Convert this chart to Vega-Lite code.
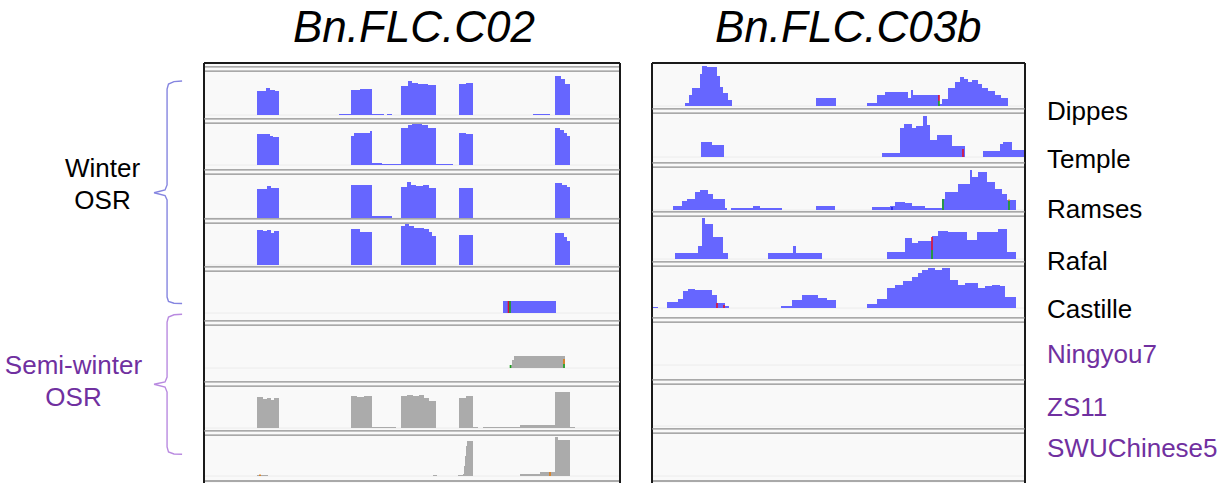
{
  "$schema": "https://vega.github.io/schema/vega-lite/v6.json",
  "padding": {"left": 0, "top": 7, "right": 0, "bottom": 0},
  "background": "#ffffff",
  "config": {
    "view": {"stroke": null},
    "axis": {"disable": true},
    "title": {"font": "Liberation Sans", "fontSize": 44, "fontStyle": "italic", "fontWeight": "normal", "color": "#000000"},
    "text": {"font": "Liberation Sans"}
  },
  "datasets": {
    "c02": [
      {"sample":"Dippes","pos":1060,"depth":24},{"sample":"Dippes","pos":1240,"depth":27},{"sample":"Dippes","pos":1320,"depth":25},{"sample":"Dippes","pos":1420,"depth":24},{"sample":"Dippes","pos":1500,"depth":0},
      {"sample":"Dippes","pos":2700,"depth":1},{"sample":"Dippes","pos":2940,"depth":25},{"sample":"Dippes","pos":3120,"depth":26},{"sample":"Dippes","pos":3360,"depth":1},{"sample":"Dippes","pos":3600,"depth":0},{"sample":"Dippes","pos":3660,"depth":1},{"sample":"Dippes","pos":3760,"depth":0},
      {"sample":"Dippes","pos":3940,"depth":29},{"sample":"Dippes","pos":4080,"depth":34},{"sample":"Dippes","pos":4160,"depth":32},{"sample":"Dippes","pos":4280,"depth":31},{"sample":"Dippes","pos":4480,"depth":30},{"sample":"Dippes","pos":4640,"depth":0},
      {"sample":"Dippes","pos":5100,"depth":31},{"sample":"Dippes","pos":5240,"depth":32},{"sample":"Dippes","pos":5380,"depth":0},
      {"sample":"Dippes","pos":6580,"depth":1},{"sample":"Dippes","pos":6920,"depth":0},
      {"sample":"Dippes","pos":7020,"depth":39},{"sample":"Dippes","pos":7140,"depth":36},{"sample":"Dippes","pos":7220,"depth":31},{"sample":"Dippes","pos":7320,"depth":0},

      {"sample":"Temple","pos":1060,"depth":31},{"sample":"Temple","pos":1320,"depth":29},{"sample":"Temple","pos":1380,"depth":28},{"sample":"Temple","pos":1500,"depth":0},
      {"sample":"Temple","pos":2940,"depth":29},{"sample":"Temple","pos":3000,"depth":32},{"sample":"Temple","pos":3320,"depth":34},{"sample":"Temple","pos":3360,"depth":2},{"sample":"Temple","pos":3560,"depth":1},
      {"sample":"Temple","pos":3940,"depth":37},{"sample":"Temple","pos":4080,"depth":40},{"sample":"Temple","pos":4160,"depth":41},{"sample":"Temple","pos":4360,"depth":40},{"sample":"Temple","pos":4480,"depth":37},{"sample":"Temple","pos":4640,"depth":1},{"sample":"Temple","pos":4980,"depth":0},
      {"sample":"Temple","pos":5100,"depth":32},{"sample":"Temple","pos":5240,"depth":31},{"sample":"Temple","pos":5380,"depth":0},
      {"sample":"Temple","pos":7020,"depth":37},{"sample":"Temple","pos":7120,"depth":35},{"sample":"Temple","pos":7200,"depth":32},{"sample":"Temple","pos":7260,"depth":29},{"sample":"Temple","pos":7320,"depth":0},

      {"sample":"Ramses","pos":1060,"depth":29},{"sample":"Ramses","pos":1260,"depth":32},{"sample":"Ramses","pos":1340,"depth":30},{"sample":"Ramses","pos":1500,"depth":0},
      {"sample":"Ramses","pos":2940,"depth":33},{"sample":"Ramses","pos":3360,"depth":2},{"sample":"Ramses","pos":3760,"depth":0},
      {"sample":"Ramses","pos":3940,"depth":31},{"sample":"Ramses","pos":4060,"depth":36},{"sample":"Ramses","pos":4140,"depth":33},{"sample":"Ramses","pos":4240,"depth":32},{"sample":"Ramses","pos":4380,"depth":33},{"sample":"Ramses","pos":4500,"depth":30},{"sample":"Ramses","pos":4640,"depth":0},
      {"sample":"Ramses","pos":5100,"depth":30},{"sample":"Ramses","pos":5380,"depth":0},
      {"sample":"Ramses","pos":7020,"depth":35},{"sample":"Ramses","pos":7160,"depth":33},{"sample":"Ramses","pos":7260,"depth":31},{"sample":"Ramses","pos":7320,"depth":0},

      {"sample":"Rafal","pos":1060,"depth":35},{"sample":"Rafal","pos":1180,"depth":34},{"sample":"Rafal","pos":1260,"depth":35},{"sample":"Rafal","pos":1340,"depth":32},{"sample":"Rafal","pos":1400,"depth":34},{"sample":"Rafal","pos":1500,"depth":0},
      {"sample":"Rafal","pos":2940,"depth":36},{"sample":"Rafal","pos":3120,"depth":33},{"sample":"Rafal","pos":3360,"depth":0},
      {"sample":"Rafal","pos":3940,"depth":39},{"sample":"Rafal","pos":4020,"depth":41},{"sample":"Rafal","pos":4100,"depth":39},{"sample":"Rafal","pos":4200,"depth":37},{"sample":"Rafal","pos":4400,"depth":36},{"sample":"Rafal","pos":4500,"depth":33},{"sample":"Rafal","pos":4560,"depth":29},{"sample":"Rafal","pos":4640,"depth":0},
      {"sample":"Rafal","pos":5100,"depth":30},{"sample":"Rafal","pos":5380,"depth":0},
      {"sample":"Rafal","pos":7020,"depth":32},{"sample":"Rafal","pos":7200,"depth":28},{"sample":"Rafal","pos":7260,"depth":24},{"sample":"Rafal","pos":7320,"depth":0},

      {"sample":"Castille","pos":5980,"depth":12},{"sample":"Castille","pos":7040,"depth":0},

      {"sample":"Ningyou7","pos":6120,"depth":3},{"sample":"Ningyou7","pos":6160,"depth":8},{"sample":"Ningyou7","pos":6200,"depth":12},{"sample":"Ningyou7","pos":7220,"depth":0},

      {"sample":"ZS11","pos":1060,"depth":31},{"sample":"ZS11","pos":1180,"depth":29},{"sample":"ZS11","pos":1260,"depth":30},{"sample":"ZS11","pos":1340,"depth":28},{"sample":"ZS11","pos":1400,"depth":30},{"sample":"ZS11","pos":1500,"depth":0},
      {"sample":"ZS11","pos":2940,"depth":32},{"sample":"ZS11","pos":3060,"depth":31},{"sample":"ZS11","pos":3200,"depth":32},{"sample":"ZS11","pos":3360,"depth":1},{"sample":"ZS11","pos":3840,"depth":0},
      {"sample":"ZS11","pos":3940,"depth":32},{"sample":"ZS11","pos":4060,"depth":33},{"sample":"ZS11","pos":4180,"depth":32},{"sample":"ZS11","pos":4300,"depth":33},{"sample":"ZS11","pos":4400,"depth":30},{"sample":"ZS11","pos":4500,"depth":27},{"sample":"ZS11","pos":4640,"depth":0},
      {"sample":"ZS11","pos":5100,"depth":30},{"sample":"ZS11","pos":5240,"depth":32},{"sample":"ZS11","pos":5380,"depth":1},{"sample":"ZS11","pos":5480,"depth":0},{"sample":"ZS11","pos":5580,"depth":1},{"sample":"ZS11","pos":6320,"depth":3},
      {"sample":"ZS11","pos":7020,"depth":36},{"sample":"ZS11","pos":7320,"depth":1},{"sample":"ZS11","pos":7420,"depth":0},

      {"sample":"SWUChinese5","pos":1060,"depth":1},{"sample":"SWUChinese5","pos":1280,"depth":0},
      {"sample":"SWUChinese5","pos":4580,"depth":1},{"sample":"SWUChinese5","pos":4660,"depth":0},
      {"sample":"SWUChinese5","pos":5080,"depth":1},{"sample":"SWUChinese5","pos":5180,"depth":2},{"sample":"SWUChinese5","pos":5200,"depth":10},{"sample":"SWUChinese5","pos":5220,"depth":20},{"sample":"SWUChinese5","pos":5240,"depth":30},{"sample":"SWUChinese5","pos":5260,"depth":35},{"sample":"SWUChinese5","pos":5380,"depth":0},
      {"sample":"SWUChinese5","pos":6320,"depth":2},{"sample":"SWUChinese5","pos":6720,"depth":4},{"sample":"SWUChinese5","pos":7020,"depth":39},{"sample":"SWUChinese5","pos":7080,"depth":36},{"sample":"SWUChinese5","pos":7320,"depth":0}
    ],
    "c03b": [
      {"sample":"Dippes","pos":660,"depth":3},{"sample":"Dippes","pos":740,"depth":11},{"sample":"Dippes","pos":800,"depth":18},{"sample":"Dippes","pos":960,"depth":32},{"sample":"Dippes","pos":1000,"depth":40},{"sample":"Dippes","pos":1100,"depth":39},{"sample":"Dippes","pos":1300,"depth":30},{"sample":"Dippes","pos":1360,"depth":19},{"sample":"Dippes","pos":1420,"depth":13},{"sample":"Dippes","pos":1520,"depth":6},{"sample":"Dippes","pos":1600,"depth":0},
      {"sample":"Dippes","pos":3280,"depth":8},{"sample":"Dippes","pos":3680,"depth":0},
      {"sample":"Dippes","pos":4300,"depth":3},{"sample":"Dippes","pos":4500,"depth":11},{"sample":"Dippes","pos":4660,"depth":14},{"sample":"Dippes","pos":5120,"depth":8},{"sample":"Dippes","pos":5180,"depth":16},{"sample":"Dippes","pos":5220,"depth":11},{"sample":"Dippes","pos":5740,"depth":2},
      {"sample":"Dippes","pos":5800,"depth":7},{"sample":"Dippes","pos":5920,"depth":18},{"sample":"Dippes","pos":6060,"depth":24},{"sample":"Dippes","pos":6160,"depth":29},{"sample":"Dippes","pos":6240,"depth":27},{"sample":"Dippes","pos":6320,"depth":24},{"sample":"Dippes","pos":6400,"depth":26},{"sample":"Dippes","pos":6520,"depth":22},{"sample":"Dippes","pos":6600,"depth":18},{"sample":"Dippes","pos":6720,"depth":15},{"sample":"Dippes","pos":6860,"depth":11},{"sample":"Dippes","pos":6980,"depth":8},{"sample":"Dippes","pos":7120,"depth":0},

      {"sample":"Temple","pos":980,"depth":15},{"sample":"Temple","pos":1200,"depth":12},{"sample":"Temple","pos":1440,"depth":0},
      {"sample":"Temple","pos":4600,"depth":4},{"sample":"Temple","pos":4960,"depth":29},{"sample":"Temple","pos":5040,"depth":33},{"sample":"Temple","pos":5200,"depth":29},{"sample":"Temple","pos":5280,"depth":31},{"sample":"Temple","pos":5420,"depth":41},{"sample":"Temple","pos":5500,"depth":32},{"sample":"Temple","pos":5560,"depth":17},{"sample":"Temple","pos":5700,"depth":22},{"sample":"Temple","pos":6000,"depth":11},{"sample":"Temple","pos":6260,"depth":0},
      {"sample":"Temple","pos":6620,"depth":6},{"sample":"Temple","pos":6960,"depth":13},{"sample":"Temple","pos":7020,"depth":15},{"sample":"Temple","pos":7200,"depth":7},{"sample":"Temple","pos":7460,"depth":0},

      {"sample":"Ramses","pos":420,"depth":4},{"sample":"Ramses","pos":600,"depth":9},{"sample":"Ramses","pos":700,"depth":11},{"sample":"Ramses","pos":860,"depth":18},{"sample":"Ramses","pos":960,"depth":20},{"sample":"Ramses","pos":1120,"depth":16},{"sample":"Ramses","pos":1220,"depth":11},{"sample":"Ramses","pos":1460,"depth":2},{"sample":"Ramses","pos":1500,"depth":0},
      {"sample":"Ramses","pos":1580,"depth":2},{"sample":"Ramses","pos":2020,"depth":4},{"sample":"Ramses","pos":2160,"depth":2},{"sample":"Ramses","pos":2600,"depth":0},
      {"sample":"Ramses","pos":3280,"depth":4},{"sample":"Ramses","pos":3660,"depth":0},
      {"sample":"Ramses","pos":4400,"depth":3},{"sample":"Ramses","pos":4760,"depth":4},{"sample":"Ramses","pos":4860,"depth":8},{"sample":"Ramses","pos":5060,"depth":7},{"sample":"Ramses","pos":5200,"depth":4},{"sample":"Ramses","pos":5460,"depth":2},
      {"sample":"Ramses","pos":5800,"depth":11},{"sample":"Ramses","pos":5860,"depth":18},{"sample":"Ramses","pos":6120,"depth":26},{"sample":"Ramses","pos":6360,"depth":40},{"sample":"Ramses","pos":6400,"depth":33},{"sample":"Ramses","pos":6520,"depth":38},{"sample":"Ramses","pos":6700,"depth":28},{"sample":"Ramses","pos":6860,"depth":21},{"sample":"Ramses","pos":7000,"depth":16},{"sample":"Ramses","pos":7100,"depth":10},{"sample":"Ramses","pos":7280,"depth":0},

      {"sample":"Rafal","pos":460,"depth":6},{"sample":"Rafal","pos":920,"depth":13},{"sample":"Rafal","pos":1000,"depth":41},{"sample":"Rafal","pos":1060,"depth":35},{"sample":"Rafal","pos":1220,"depth":22},{"sample":"Rafal","pos":1420,"depth":6},{"sample":"Rafal","pos":1520,"depth":0},
      {"sample":"Rafal","pos":2320,"depth":6},{"sample":"Rafal","pos":2820,"depth":13},{"sample":"Rafal","pos":2880,"depth":6},{"sample":"Rafal","pos":3400,"depth":0},
      {"sample":"Rafal","pos":4700,"depth":7},{"sample":"Rafal","pos":5060,"depth":21},{"sample":"Rafal","pos":5200,"depth":16},{"sample":"Rafal","pos":5320,"depth":18},{"sample":"Rafal","pos":5600,"depth":23},{"sample":"Rafal","pos":5720,"depth":28},{"sample":"Rafal","pos":5920,"depth":27},{"sample":"Rafal","pos":6300,"depth":19},{"sample":"Rafal","pos":6500,"depth":27},{"sample":"Rafal","pos":6920,"depth":30},{"sample":"Rafal","pos":7100,"depth":7},{"sample":"Rafal","pos":7280,"depth":0},

      {"sample":"Castille","pos":0,"depth":1},{"sample":"Castille","pos":120,"depth":0},
      {"sample":"Castille","pos":300,"depth":6},{"sample":"Castille","pos":520,"depth":9},{"sample":"Castille","pos":620,"depth":17},{"sample":"Castille","pos":720,"depth":19},{"sample":"Castille","pos":860,"depth":18},{"sample":"Castille","pos":1200,"depth":13},{"sample":"Castille","pos":1300,"depth":5},{"sample":"Castille","pos":1460,"depth":2},{"sample":"Castille","pos":1540,"depth":0},
      {"sample":"Castille","pos":2580,"depth":2},{"sample":"Castille","pos":2800,"depth":8},{"sample":"Castille","pos":3000,"depth":13},{"sample":"Castille","pos":3320,"depth":10},{"sample":"Castille","pos":3500,"depth":8},{"sample":"Castille","pos":3680,"depth":0},
      {"sample":"Castille","pos":4300,"depth":4},{"sample":"Castille","pos":4500,"depth":9},{"sample":"Castille","pos":4700,"depth":20},{"sample":"Castille","pos":4860,"depth":23},{"sample":"Castille","pos":5020,"depth":27},{"sample":"Castille","pos":5200,"depth":31},{"sample":"Castille","pos":5320,"depth":35},{"sample":"Castille","pos":5400,"depth":38},{"sample":"Castille","pos":5520,"depth":40},{"sample":"Castille","pos":5660,"depth":38},{"sample":"Castille","pos":5800,"depth":40},{"sample":"Castille","pos":5960,"depth":28},{"sample":"Castille","pos":6120,"depth":23},{"sample":"Castille","pos":6260,"depth":25},{"sample":"Castille","pos":6520,"depth":20},{"sample":"Castille","pos":6660,"depth":22},{"sample":"Castille","pos":6800,"depth":23},{"sample":"Castille","pos":6960,"depth":22},{"sample":"Castille","pos":7060,"depth":11},{"sample":"Castille","pos":7280,"depth":0}
    ],
    "snv": [
      {"track":"C02 Castille","pos":6090,"lo":0,"hi":12,"base":"T"},
      {"track":"C02 Castille","pos":6120,"lo":0,"hi":12,"base":"A"},
      {"track":"C02 Ningyou7","pos":6130,"lo":0,"hi":3,"base":"A"},
      {"track":"C02 Ningyou7","pos":7200,"lo":0,"hi":4,"base":"A"},
      {"track":"C02 Ningyou7","pos":7200,"lo":4,"hi":9,"base":"G"},
      {"track":"C02 SWUChinese5","pos":1120,"lo":0,"hi":1.5,"base":"G"},
      {"track":"C02 SWUChinese5","pos":6920,"lo":0,"hi":4,"base":"G"},
      {"track":"C03b Dippes","pos":5740,"lo":5,"hi":11,"base":"T"},
      {"track":"C03b Dippes","pos":5740,"lo":0,"hi":5,"base":"A"},
      {"track":"C03b Temple","pos":6220,"lo":0,"hi":8,"base":"T"},
      {"track":"C03b Ramses","pos":4800,"lo":0,"hi":3,"base":"C"},
      {"track":"C03b Ramses","pos":5820,"lo":0,"hi":11,"base":"A"},
      {"track":"C03b Ramses","pos":7140,"lo":0,"hi":9,"base":"A"},
      {"track":"C03b Ramses","pos":7140,"lo":9,"hi":10.5,"base":"G"},
      {"track":"C03b Rafal","pos":5600,"lo":9,"hi":22,"base":"T"},
      {"track":"C03b Rafal","pos":5600,"lo":0,"hi":9,"base":"A"},
      {"track":"C03b Castille","pos":1300,"lo":0,"hi":5,"base":"T"},
      {"track":"C03b Castille","pos":1440,"lo":0,"hi":3,"base":"T"}
    ],
    "braces": [
      {"group":"Winter OSR","i":0,"bx":8.97,"row":0.342},{"group":"Winter OSR","i":1,"bx":8.57,"row":0.353},{"group":"Winter OSR","i":2,"bx":8.30,"row":0.399},{"group":"Winter OSR","i":3,"bx":8.23,"row":0.494},{"group":"Winter OSR","i":4,"bx":8.23,"row":2.318},{"group":"Winter OSR","i":5,"bx":8.13,"row":2.413},{"group":"Winter OSR","i":6,"bx":7.59,"row":2.465},{"group":"Winter OSR","i":7,"bx":8.13,"row":2.518},{"group":"Winter OSR","i":8,"bx":8.23,"row":2.603},{"group":"Winter OSR","i":9,"bx":8.23,"row":4.447},{"group":"Winter OSR","i":10,"bx":8.30,"row":4.532},{"group":"Winter OSR","i":11,"bx":8.57,"row":4.564},{"group":"Winter OSR","i":12,"bx":8.97,"row":4.570},
      {"group":"Semi-winter OSR","i":0,"bx":8.97,"row":4.775},{"group":"Semi-winter OSR","i":1,"bx":8.57,"row":4.785},{"group":"Semi-winter OSR","i":2,"bx":8.30,"row":4.827},{"group":"Semi-winter OSR","i":3,"bx":8.23,"row":4.922},{"group":"Semi-winter OSR","i":4,"bx":8.23,"row":5.967},{"group":"Semi-winter OSR","i":5,"bx":8.13,"row":6.062},{"group":"Semi-winter OSR","i":6,"bx":7.59,"row":6.105},{"group":"Semi-winter OSR","i":7,"bx":8.13,"row":6.157},{"group":"Semi-winter OSR","i":8,"bx":8.23,"row":6.252},{"group":"Semi-winter OSR","i":9,"bx":8.23,"row":7.297},{"group":"Semi-winter OSR","i":10,"bx":8.30,"row":7.392},{"group":"Semi-winter OSR","i":11,"bx":8.57,"row":7.430},{"group":"Semi-winter OSR","i":12,"bx":8.97,"row":7.436}
    ],
    "groups": [
      {"group":"Winter OSR","label":"Winter\nOSR","bx":5.05,"row":2.014},
      {"group":"Semi-winter OSR","label":"Semi-winter\nOSR","bx":3.62,"row":5.758}
    ]
  },
  "spacing": 30,
  "hconcat": [
    {
      "title": {"text": "Bn.FLC.C02", "anchor": "end", "dx": -86, "offset": -24, "baseline": "alphabetic"},
      "spacing": 0,
      "hconcat": [
        {
          "width": 203, "height": 421,
          "encoding": {
            "x": {"field": "bx", "type": "quantitative", "scale": {"domain": [0, 10], "nice": false, "zero": false}, "axis": null},
            "y": {"field": "row", "type": "quantitative", "scale": {"domain": [0, 8], "reverse": true, "nice": false, "zero": false}, "axis": null}
          },
          "layer": [
            {"data": {"name": "braces"}, "transform": [{"filter": "datum.group === 'Winter OSR'"}], "mark": {"type": "line", "color": "#8585e0", "strokeWidth": 1.4}, "encoding": {"order": {"field": "i", "type": "quantitative"}}},
            {"data": {"name": "braces"}, "transform": [{"filter": "datum.group === 'Semi-winter OSR'"}], "mark": {"type": "line", "color": "#b98ae0", "strokeWidth": 1.4}, "encoding": {"order": {"field": "i", "type": "quantitative"}}},
            {"data": {"name": "groups"}, "transform": [{"filter": "datum.group === 'Winter OSR'"}], "mark": {"type": "text", "fontSize": 26, "lineHeight": 32, "lineBreak": "\n", "align": "center", "baseline": "middle", "color": "#000000"}, "encoding": {"text": {"field": "label"}}},
            {"data": {"name": "groups"}, "transform": [{"filter": "datum.group === 'Semi-winter OSR'"}], "mark": {"type": "text", "fontSize": 26, "lineHeight": 32, "lineBreak": "\n", "align": "center", "baseline": "middle", "color": "#7030a0"}, "encoding": {"text": {"field": "label"}}}
          ]
        },
        {
          "spacing": 0, "bounds": "flush",
          "vconcat": [
            {"width": 416, "height": 58, "view": {"fill": "#f9f9f9"}, "layer": [
              {"data": {"values": [{}]}, "mark": {"type": "rule", "color": "#ececec", "strokeWidth": 1}, "encoding": {"y": {"datum": 0, "type": "quantitative", "scale": {"domain": [-6, 52], "nice": false, "zero": false}, "axis": null}}},
              {"data": {"name": "c02"}, "transform": [{"filter": "datum.sample === 'Dippes'"}], "mark": {"type": "area", "interpolate": "step-after", "color": "#6666ff"}, "encoding": {"x": {"field": "pos", "type": "quantitative", "axis": null}, "y": {"field": "depth", "type": "quantitative", "axis": null}}},
              {"data": {"values": [{}]}, "mark": {"type": "rule", "color": "#8e8e8e", "strokeWidth": 1.3}, "encoding": {"y": {"datum": 48.2, "type": "quantitative"}}},
              {"data": {"values": [{}]}, "mark": {"type": "rule", "color": "#8e8e8e", "strokeWidth": 1.3}, "encoding": {"y": {"datum": 43.8, "type": "quantitative"}}},
              {"data": {"values": [{}]}, "mark": {"type": "rule", "color": "#1a1a1a", "strokeWidth": 2}, "encoding": {"y": {"datum": 52, "type": "quantitative"}}},
              {"data": {"values": [{}]}, "mark": {"type": "rule", "color": "#1a1a1a", "strokeWidth": 2}, "encoding": {"x": {"datum": 0, "type": "quantitative", "scale": {"domain": [0, 8320], "nice": false, "zero": false}, "axis": null}}},
              {"data": {"values": [{}]}, "mark": {"type": "rule", "color": "#1a1a1a", "strokeWidth": 2}, "encoding": {"x": {"datum": 8320, "type": "quantitative"}}}
            ]},
            {"width": 416, "height": 51, "view": {"fill": "#f9f9f9"}, "layer": [
              {"data": {"values": [{}]}, "mark": {"type": "rule", "color": "#ececec", "strokeWidth": 1}, "encoding": {"y": {"datum": 0, "type": "quantitative", "scale": {"domain": [-7, 44], "nice": false, "zero": false}, "axis": null}}},
              {"data": {"name": "c02"}, "transform": [{"filter": "datum.sample === 'Temple'"}], "mark": {"type": "area", "interpolate": "step-after", "color": "#6666ff"}, "encoding": {"x": {"field": "pos", "type": "quantitative", "axis": null}, "y": {"field": "depth", "type": "quantitative", "axis": null}}},
              {"data": {"values": [{}]}, "mark": {"type": "rule", "color": "#8e8e8e", "strokeWidth": 1.3}, "encoding": {"y": {"datum": 46.2, "type": "quantitative"}}},
              {"data": {"values": [{}]}, "mark": {"type": "rule", "color": "#8e8e8e", "strokeWidth": 1.3}, "encoding": {"y": {"datum": 41.8, "type": "quantitative"}}},
              {"data": {"values": [{}]}, "mark": {"type": "rule", "color": "#1a1a1a", "strokeWidth": 2}, "encoding": {"x": {"datum": 0, "type": "quantitative", "scale": {"domain": [0, 8320], "nice": false, "zero": false}, "axis": null}}},
              {"data": {"values": [{}]}, "mark": {"type": "rule", "color": "#1a1a1a", "strokeWidth": 2}, "encoding": {"x": {"datum": 8320, "type": "quantitative"}}}
            ]},
            {"width": 416, "height": 49, "view": {"fill": "#f9f9f9"}, "layer": [
              {"data": {"values": [{}]}, "mark": {"type": "rule", "color": "#ececec", "strokeWidth": 1}, "encoding": {"y": {"datum": 0, "type": "quantitative", "scale": {"domain": [-3, 46], "nice": false, "zero": false}, "axis": null}}},
              {"data": {"name": "c02"}, "transform": [{"filter": "datum.sample === 'Ramses'"}], "mark": {"type": "area", "interpolate": "step-after", "color": "#6666ff"}, "encoding": {"x": {"field": "pos", "type": "quantitative", "axis": null}, "y": {"field": "depth", "type": "quantitative", "axis": null}}},
              {"data": {"values": [{}]}, "mark": {"type": "rule", "color": "#8e8e8e", "strokeWidth": 1.3}, "encoding": {"y": {"datum": 48.2, "type": "quantitative"}}},
              {"data": {"values": [{}]}, "mark": {"type": "rule", "color": "#8e8e8e", "strokeWidth": 1.3}, "encoding": {"y": {"datum": 43.8, "type": "quantitative"}}},
              {"data": {"values": [{}]}, "mark": {"type": "rule", "color": "#1a1a1a", "strokeWidth": 2}, "encoding": {"x": {"datum": 0, "type": "quantitative", "scale": {"domain": [0, 8320], "nice": false, "zero": false}, "axis": null}}},
              {"data": {"values": [{}]}, "mark": {"type": "rule", "color": "#1a1a1a", "strokeWidth": 2}, "encoding": {"x": {"datum": 8320, "type": "quantitative"}}}
            ]},
            {"width": 416, "height": 48, "view": {"fill": "#f9f9f9"}, "layer": [
              {"data": {"values": [{}]}, "mark": {"type": "rule", "color": "#ececec", "strokeWidth": 1}, "encoding": {"y": {"datum": 0, "type": "quantitative", "scale": {"domain": [-4, 44], "nice": false, "zero": false}, "axis": null}}},
              {"data": {"name": "c02"}, "transform": [{"filter": "datum.sample === 'Rafal'"}], "mark": {"type": "area", "interpolate": "step-after", "color": "#6666ff"}, "encoding": {"x": {"field": "pos", "type": "quantitative", "axis": null}, "y": {"field": "depth", "type": "quantitative", "axis": null}}},
              {"data": {"values": [{}]}, "mark": {"type": "rule", "color": "#8e8e8e", "strokeWidth": 1.3}, "encoding": {"y": {"datum": 46.2, "type": "quantitative"}}},
              {"data": {"values": [{}]}, "mark": {"type": "rule", "color": "#8e8e8e", "strokeWidth": 1.3}, "encoding": {"y": {"datum": 41.8, "type": "quantitative"}}},
              {"data": {"values": [{}]}, "mark": {"type": "rule", "color": "#1a1a1a", "strokeWidth": 2}, "encoding": {"x": {"datum": 0, "type": "quantitative", "scale": {"domain": [0, 8320], "nice": false, "zero": false}, "axis": null}}},
              {"data": {"values": [{}]}, "mark": {"type": "rule", "color": "#1a1a1a", "strokeWidth": 2}, "encoding": {"x": {"datum": 8320, "type": "quantitative"}}}
            ]},
            {"width": 416, "height": 54, "view": {"fill": "#f9f9f9"}, "layer": [
              {"data": {"values": [{}]}, "mark": {"type": "rule", "color": "#ececec", "strokeWidth": 1}, "encoding": {"y": {"datum": 0, "type": "quantitative", "scale": {"domain": [-10, 44], "nice": false, "zero": false}, "axis": null}}},
              {"data": {"name": "c02"}, "transform": [{"filter": "datum.sample === 'Castille'"}], "mark": {"type": "area", "interpolate": "step-after", "color": "#6666ff"}, "encoding": {"x": {"field": "pos", "type": "quantitative", "axis": null}, "y": {"field": "depth", "type": "quantitative", "axis": null}}},
              {"data": {"name": "snv"}, "transform": [{"filter": "datum.track === 'C02 Castille'"}], "mark": {"type": "rule", "strokeWidth": 1.6}, "encoding": {"x": {"field": "pos", "type": "quantitative", "axis": null}, "y": {"field": "lo", "type": "quantitative", "axis": null}, "y2": {"field": "hi"}, "color": {"field": "base", "type": "nominal", "scale": {"domain": ["A", "C", "G", "T"], "range": ["#1aa01a", "#2020e0", "#e07a10", "#e01030"]}, "legend": null}}},
              {"data": {"values": [{}]}, "mark": {"type": "rule", "color": "#8e8e8e", "strokeWidth": 1.3}, "encoding": {"y": {"datum": 46.2, "type": "quantitative"}}},
              {"data": {"values": [{}]}, "mark": {"type": "rule", "color": "#8e8e8e", "strokeWidth": 1.3}, "encoding": {"y": {"datum": 41.8, "type": "quantitative"}}},
              {"data": {"values": [{}]}, "mark": {"type": "rule", "color": "#1a1a1a", "strokeWidth": 2}, "encoding": {"x": {"datum": 0, "type": "quantitative", "scale": {"domain": [0, 8320], "nice": false, "zero": false}, "axis": null}}},
              {"data": {"values": [{}]}, "mark": {"type": "rule", "color": "#1a1a1a", "strokeWidth": 2}, "encoding": {"x": {"datum": 8320, "type": "quantitative"}}}
            ]},
            {"width": 416, "height": 61, "view": {"fill": "#f9f9f9"}, "layer": [
              {"data": {"values": [{}]}, "mark": {"type": "rule", "color": "#ececec", "strokeWidth": 1}, "encoding": {"y": {"datum": 0, "type": "quantitative", "scale": {"domain": [-16, 45], "nice": false, "zero": false}, "axis": null}}},
              {"data": {"name": "c02"}, "transform": [{"filter": "datum.sample === 'Ningyou7'"}], "mark": {"type": "area", "interpolate": "step-after", "color": "#ababab"}, "encoding": {"x": {"field": "pos", "type": "quantitative", "axis": null}, "y": {"field": "depth", "type": "quantitative", "axis": null}}},
              {"data": {"name": "snv"}, "transform": [{"filter": "datum.track === 'C02 Ningyou7'"}], "mark": {"type": "rule", "strokeWidth": 1.6}, "encoding": {"x": {"field": "pos", "type": "quantitative", "axis": null}, "y": {"field": "lo", "type": "quantitative", "axis": null}, "y2": {"field": "hi"}, "color": {"field": "base", "type": "nominal", "scale": {"domain": ["A", "C", "G", "T"], "range": ["#1aa01a", "#2020e0", "#e07a10", "#e01030"]}, "legend": null}}},
              {"data": {"values": [{}]}, "mark": {"type": "rule", "color": "#8e8e8e", "strokeWidth": 1.3}, "encoding": {"y": {"datum": 47.2, "type": "quantitative"}}},
              {"data": {"values": [{}]}, "mark": {"type": "rule", "color": "#8e8e8e", "strokeWidth": 1.3}, "encoding": {"y": {"datum": 42.8, "type": "quantitative"}}},
              {"data": {"values": [{}]}, "mark": {"type": "rule", "color": "#1a1a1a", "strokeWidth": 2}, "encoding": {"x": {"datum": 0, "type": "quantitative", "scale": {"domain": [0, 8320], "nice": false, "zero": false}, "axis": null}}},
              {"data": {"values": [{}]}, "mark": {"type": "rule", "color": "#1a1a1a", "strokeWidth": 2}, "encoding": {"x": {"datum": 8320, "type": "quantitative"}}}
            ]},
            {"width": 416, "height": 49, "view": {"fill": "#f9f9f9"}, "layer": [
              {"data": {"values": [{}]}, "mark": {"type": "rule", "color": "#ececec", "strokeWidth": 1}, "encoding": {"y": {"datum": 0, "type": "quantitative", "scale": {"domain": [-5, 44], "nice": false, "zero": false}, "axis": null}}},
              {"data": {"name": "c02"}, "transform": [{"filter": "datum.sample === 'ZS11'"}], "mark": {"type": "area", "interpolate": "step-after", "color": "#ababab"}, "encoding": {"x": {"field": "pos", "type": "quantitative", "axis": null}, "y": {"field": "depth", "type": "quantitative", "axis": null}}},
              {"data": {"values": [{}]}, "mark": {"type": "rule", "color": "#8e8e8e", "strokeWidth": 1.3}, "encoding": {"y": {"datum": 46.2, "type": "quantitative"}}},
              {"data": {"values": [{}]}, "mark": {"type": "rule", "color": "#8e8e8e", "strokeWidth": 1.3}, "encoding": {"y": {"datum": 41.8, "type": "quantitative"}}},
              {"data": {"values": [{}]}, "mark": {"type": "rule", "color": "#1a1a1a", "strokeWidth": 2}, "encoding": {"x": {"datum": 0, "type": "quantitative", "scale": {"domain": [0, 8320], "nice": false, "zero": false}, "axis": null}}},
              {"data": {"values": [{}]}, "mark": {"type": "rule", "color": "#1a1a1a", "strokeWidth": 2}, "encoding": {"x": {"datum": 8320, "type": "quantitative"}}}
            ]},
            {"width": 416, "height": 51, "view": {"fill": "#f9f9f9"}, "layer": [
              {"data": {"values": [{}]}, "mark": {"type": "rule", "color": "#ececec", "strokeWidth": 1}, "encoding": {"y": {"datum": 0, "type": "quantitative", "scale": {"domain": [-8, 43], "nice": false, "zero": false}, "axis": null}}},
              {"data": {"name": "c02"}, "transform": [{"filter": "datum.sample === 'SWUChinese5'"}], "mark": {"type": "area", "interpolate": "step-after", "color": "#ababab"}, "encoding": {"x": {"field": "pos", "type": "quantitative", "axis": null}, "y": {"field": "depth", "type": "quantitative", "axis": null}}},
              {"data": {"name": "snv"}, "transform": [{"filter": "datum.track === 'C02 SWUChinese5'"}], "mark": {"type": "rule", "strokeWidth": 1.6}, "encoding": {"x": {"field": "pos", "type": "quantitative", "axis": null}, "y": {"field": "lo", "type": "quantitative", "axis": null}, "y2": {"field": "hi"}, "color": {"field": "base", "type": "nominal", "scale": {"domain": ["A", "C", "G", "T"], "range": ["#1aa01a", "#2020e0", "#e07a10", "#e01030"]}, "legend": null}}},
              {"data": {"values": [{}]}, "mark": {"type": "rule", "color": "#8e8e8e", "strokeWidth": 1.3}, "encoding": {"y": {"datum": 45.2, "type": "quantitative"}}},
              {"data": {"values": [{}]}, "mark": {"type": "rule", "color": "#8e8e8e", "strokeWidth": 1.3}, "encoding": {"y": {"datum": 40.8, "type": "quantitative"}}},
              {"data": {"values": [{}]}, "mark": {"type": "rule", "color": "#8e8e8e", "strokeWidth": 1.3}, "encoding": {"y": {"datum": -5, "type": "quantitative"}}},
              {"data": {"values": [{}]}, "mark": {"type": "rule", "color": "#1a1a1a", "strokeWidth": 2}, "encoding": {"x": {"datum": 0, "type": "quantitative", "scale": {"domain": [0, 8320], "nice": false, "zero": false}, "axis": null}}},
              {"data": {"values": [{}]}, "mark": {"type": "rule", "color": "#1a1a1a", "strokeWidth": 2}, "encoding": {"x": {"datum": 8320, "type": "quantitative"}}}
            ]}
          ]
        }
      ]
    },
    {
      "title": {"text": "Bn.FLC.C03b", "anchor": "start", "dx": 64, "offset": -24, "baseline": "alphabetic"},
      "spacing": 0, "bounds": "flush",
      "vconcat": [
        {"width": 373, "height": 48, "view": {"fill": "#f9f9f9"}, "layer": [
          {"data": {"values": [{}]}, "mark": {"type": "rule", "color": "#ececec", "strokeWidth": 1}, "encoding": {"y": {"datum": 0, "type": "quantitative", "scale": {"domain": [-5, 43], "nice": false, "zero": false}, "axis": null}}},
          {"data": {"name": "c03b"}, "transform": [{"filter": "datum.sample === 'Dippes'"}], "mark": {"type": "area", "interpolate": "step-after", "color": "#6666ff"}, "encoding": {"x": {"field": "pos", "type": "quantitative", "axis": null}, "y": {"field": "depth", "type": "quantitative", "axis": null}}},
          {"data": {"name": "snv"}, "transform": [{"filter": "datum.track === 'C03b Dippes'"}], "mark": {"type": "rule", "strokeWidth": 1.6}, "encoding": {"x": {"field": "pos", "type": "quantitative", "axis": null}, "y": {"field": "lo", "type": "quantitative", "axis": null}, "y2": {"field": "hi"}, "color": {"field": "base", "type": "nominal", "scale": {"domain": ["A", "C", "G", "T"], "range": ["#1aa01a", "#2020e0", "#e07a10", "#e01030"]}, "legend": null}}},
          {"data": {"values": [{}]}, "mark": {"type": "rule", "color": "#1a1a1a", "strokeWidth": 2}, "encoding": {"y": {"datum": 43, "type": "quantitative"}}},
          {"data": {"values": [{}]}, "mark": {"type": "rule", "color": "#1a1a1a", "strokeWidth": 2}, "encoding": {"x": {"datum": 0, "type": "quantitative", "scale": {"domain": [0, 7460], "nice": false, "zero": false}, "axis": null}}},
          {"data": {"values": [{}]}, "mark": {"type": "rule", "color": "#1a1a1a", "strokeWidth": 2}, "encoding": {"x": {"datum": 7460, "type": "quantitative"}}},
          {"data": {"values": [{}]}, "mark": {"type": "text", "align": "left", "baseline": "middle", "dx": 22, "fontSize": 26, "color": "#000000"}, "encoding": {"x": {"datum": 7460, "type": "quantitative"}, "y": {"datum": -6, "type": "quantitative"}, "text": {"value": "Dippes"}}}
        ]},
        {"width": 373, "height": 54, "view": {"fill": "#f9f9f9"}, "layer": [
          {"data": {"values": [{}]}, "mark": {"type": "rule", "color": "#ececec", "strokeWidth": 1}, "encoding": {"y": {"datum": 0, "type": "quantitative", "scale": {"domain": [-8, 46], "nice": false, "zero": false}, "axis": null}}},
          {"data": {"name": "c03b"}, "transform": [{"filter": "datum.sample === 'Temple'"}], "mark": {"type": "area", "interpolate": "step-after", "color": "#6666ff"}, "encoding": {"x": {"field": "pos", "type": "quantitative", "axis": null}, "y": {"field": "depth", "type": "quantitative", "axis": null}}},
          {"data": {"name": "snv"}, "transform": [{"filter": "datum.track === 'C03b Temple'"}], "mark": {"type": "rule", "strokeWidth": 1.6}, "encoding": {"x": {"field": "pos", "type": "quantitative", "axis": null}, "y": {"field": "lo", "type": "quantitative", "axis": null}, "y2": {"field": "hi"}, "color": {"field": "base", "type": "nominal", "scale": {"domain": ["A", "C", "G", "T"], "range": ["#1aa01a", "#2020e0", "#e07a10", "#e01030"]}, "legend": null}}},
          {"data": {"values": [{}]}, "mark": {"type": "rule", "color": "#8e8e8e", "strokeWidth": 1.3}, "encoding": {"y": {"datum": 48.2, "type": "quantitative"}}},
          {"data": {"values": [{}]}, "mark": {"type": "rule", "color": "#8e8e8e", "strokeWidth": 1.3}, "encoding": {"y": {"datum": 43.8, "type": "quantitative"}}},
          {"data": {"values": [{}]}, "mark": {"type": "rule", "color": "#1a1a1a", "strokeWidth": 2}, "encoding": {"x": {"datum": 0, "type": "quantitative", "scale": {"domain": [0, 7460], "nice": false, "zero": false}, "axis": null}}},
          {"data": {"values": [{}]}, "mark": {"type": "rule", "color": "#1a1a1a", "strokeWidth": 2}, "encoding": {"x": {"datum": 7460, "type": "quantitative"}}},
          {"data": {"values": [{}]}, "mark": {"type": "text", "align": "left", "baseline": "middle", "dx": 22, "fontSize": 26, "color": "#000000"}, "encoding": {"x": {"datum": 7460, "type": "quantitative"}, "y": {"datum": -2.5, "type": "quantitative"}, "text": {"value": "Temple"}}}
        ]},
        {"width": 373, "height": 49, "view": {"fill": "#f9f9f9"}, "layer": [
          {"data": {"values": [{}]}, "mark": {"type": "rule", "color": "#ececec", "strokeWidth": 1}, "encoding": {"y": {"datum": 0, "type": "quantitative", "scale": {"domain": [-4, 45], "nice": false, "zero": false}, "axis": null}}},
          {"data": {"name": "c03b"}, "transform": [{"filter": "datum.sample === 'Ramses'"}], "mark": {"type": "area", "interpolate": "step-after", "color": "#6666ff"}, "encoding": {"x": {"field": "pos", "type": "quantitative", "axis": null}, "y": {"field": "depth", "type": "quantitative", "axis": null}}},
          {"data": {"name": "snv"}, "transform": [{"filter": "datum.track === 'C03b Ramses'"}], "mark": {"type": "rule", "strokeWidth": 1.6}, "encoding": {"x": {"field": "pos", "type": "quantitative", "axis": null}, "y": {"field": "lo", "type": "quantitative", "axis": null}, "y2": {"field": "hi"}, "color": {"field": "base", "type": "nominal", "scale": {"domain": ["A", "C", "G", "T"], "range": ["#1aa01a", "#2020e0", "#e07a10", "#e01030"]}, "legend": null}}},
          {"data": {"values": [{}]}, "mark": {"type": "rule", "color": "#8e8e8e", "strokeWidth": 1.3}, "encoding": {"y": {"datum": 47.2, "type": "quantitative"}}},
          {"data": {"values": [{}]}, "mark": {"type": "rule", "color": "#8e8e8e", "strokeWidth": 1.3}, "encoding": {"y": {"datum": 42.8, "type": "quantitative"}}},
          {"data": {"values": [{}]}, "mark": {"type": "rule", "color": "#1a1a1a", "strokeWidth": 2}, "encoding": {"x": {"datum": 0, "type": "quantitative", "scale": {"domain": [0, 7460], "nice": false, "zero": false}, "axis": null}}},
          {"data": {"values": [{}]}, "mark": {"type": "rule", "color": "#1a1a1a", "strokeWidth": 2}, "encoding": {"x": {"datum": 7460, "type": "quantitative"}}},
          {"data": {"values": [{}]}, "mark": {"type": "text", "align": "left", "baseline": "middle", "dx": 22, "fontSize": 26, "color": "#000000"}, "encoding": {"x": {"datum": 7460, "type": "quantitative"}, "y": {"datum": 0, "type": "quantitative"}, "text": {"value": "Ramses"}}}
        ]},
        {"width": 373, "height": 50, "view": {"fill": "#f9f9f9"}, "layer": [
          {"data": {"values": [{}]}, "mark": {"type": "rule", "color": "#ececec", "strokeWidth": 1}, "encoding": {"y": {"datum": 0, "type": "quantitative", "scale": {"domain": [-5, 45], "nice": false, "zero": false}, "axis": null}}},
          {"data": {"name": "c03b"}, "transform": [{"filter": "datum.sample === 'Rafal'"}], "mark": {"type": "area", "interpolate": "step-after", "color": "#6666ff"}, "encoding": {"x": {"field": "pos", "type": "quantitative", "axis": null}, "y": {"field": "depth", "type": "quantitative", "axis": null}}},
          {"data": {"name": "snv"}, "transform": [{"filter": "datum.track === 'C03b Rafal'"}], "mark": {"type": "rule", "strokeWidth": 1.6}, "encoding": {"x": {"field": "pos", "type": "quantitative", "axis": null}, "y": {"field": "lo", "type": "quantitative", "axis": null}, "y2": {"field": "hi"}, "color": {"field": "base", "type": "nominal", "scale": {"domain": ["A", "C", "G", "T"], "range": ["#1aa01a", "#2020e0", "#e07a10", "#e01030"]}, "legend": null}}},
          {"data": {"values": [{}]}, "mark": {"type": "rule", "color": "#8e8e8e", "strokeWidth": 1.3}, "encoding": {"y": {"datum": 47.2, "type": "quantitative"}}},
          {"data": {"values": [{}]}, "mark": {"type": "rule", "color": "#8e8e8e", "strokeWidth": 1.3}, "encoding": {"y": {"datum": 42.8, "type": "quantitative"}}},
          {"data": {"values": [{}]}, "mark": {"type": "rule", "color": "#1a1a1a", "strokeWidth": 2}, "encoding": {"x": {"datum": 0, "type": "quantitative", "scale": {"domain": [0, 7460], "nice": false, "zero": false}, "axis": null}}},
          {"data": {"values": [{}]}, "mark": {"type": "rule", "color": "#1a1a1a", "strokeWidth": 2}, "encoding": {"x": {"datum": 7460, "type": "quantitative"}}},
          {"data": {"values": [{}]}, "mark": {"type": "text", "align": "left", "baseline": "middle", "dx": 22, "fontSize": 26, "color": "#000000"}, "encoding": {"x": {"datum": 7460, "type": "quantitative"}, "y": {"datum": -2.5, "type": "quantitative"}, "text": {"value": "Rafal"}}}
        ]},
        {"width": 373, "height": 56, "view": {"fill": "#f9f9f9"}, "layer": [
          {"data": {"values": [{}]}, "mark": {"type": "rule", "color": "#ececec", "strokeWidth": 1}, "encoding": {"y": {"datum": 0, "type": "quantitative", "scale": {"domain": [-12, 44], "nice": false, "zero": false}, "axis": null}}},
          {"data": {"name": "c03b"}, "transform": [{"filter": "datum.sample === 'Castille'"}], "mark": {"type": "area", "interpolate": "step-after", "color": "#6666ff"}, "encoding": {"x": {"field": "pos", "type": "quantitative", "axis": null}, "y": {"field": "depth", "type": "quantitative", "axis": null}}},
          {"data": {"name": "snv"}, "transform": [{"filter": "datum.track === 'C03b Castille'"}], "mark": {"type": "rule", "strokeWidth": 1.6}, "encoding": {"x": {"field": "pos", "type": "quantitative", "axis": null}, "y": {"field": "lo", "type": "quantitative", "axis": null}, "y2": {"field": "hi"}, "color": {"field": "base", "type": "nominal", "scale": {"domain": ["A", "C", "G", "T"], "range": ["#1aa01a", "#2020e0", "#e07a10", "#e01030"]}, "legend": null}}},
          {"data": {"values": [{}]}, "mark": {"type": "rule", "color": "#8e8e8e", "strokeWidth": 1.3}, "encoding": {"y": {"datum": 46.2, "type": "quantitative"}}},
          {"data": {"values": [{}]}, "mark": {"type": "rule", "color": "#8e8e8e", "strokeWidth": 1.3}, "encoding": {"y": {"datum": 41.8, "type": "quantitative"}}},
          {"data": {"values": [{}]}, "mark": {"type": "rule", "color": "#1a1a1a", "strokeWidth": 2}, "encoding": {"x": {"datum": 0, "type": "quantitative", "scale": {"domain": [0, 7460], "nice": false, "zero": false}, "axis": null}}},
          {"data": {"values": [{}]}, "mark": {"type": "rule", "color": "#1a1a1a", "strokeWidth": 2}, "encoding": {"x": {"datum": 7460, "type": "quantitative"}}},
          {"data": {"values": [{}]}, "mark": {"type": "text", "align": "left", "baseline": "middle", "dx": 22, "fontSize": 26, "color": "#000000"}, "encoding": {"x": {"datum": 7460, "type": "quantitative"}, "y": {"datum": -2, "type": "quantitative"}, "text": {"value": "Castille"}}}
        ]},
        {"width": 373, "height": 62, "view": {"fill": "#f9f9f9"}, "layer": [
          {"data": {"values": [{}]}, "mark": {"type": "rule", "color": "#ececec", "strokeWidth": 1}, "encoding": {"y": {"datum": 0, "type": "quantitative", "scale": {"domain": [-17, 45], "nice": false, "zero": false}, "axis": null}}},
          {"data": {"values": [{}]}, "mark": {"type": "rule", "color": "#8e8e8e", "strokeWidth": 1.3}, "encoding": {"y": {"datum": 47.2, "type": "quantitative"}}},
          {"data": {"values": [{}]}, "mark": {"type": "rule", "color": "#8e8e8e", "strokeWidth": 1.3}, "encoding": {"y": {"datum": 42.8, "type": "quantitative"}}},
          {"data": {"values": [{}]}, "mark": {"type": "rule", "color": "#1a1a1a", "strokeWidth": 2}, "encoding": {"x": {"datum": 0, "type": "quantitative", "scale": {"domain": [0, 7460], "nice": false, "zero": false}, "axis": null}}},
          {"data": {"values": [{}]}, "mark": {"type": "rule", "color": "#1a1a1a", "strokeWidth": 2}, "encoding": {"x": {"datum": 7460, "type": "quantitative"}}},
          {"data": {"values": [{}]}, "mark": {"type": "text", "align": "left", "baseline": "middle", "dx": 22, "fontSize": 26, "color": "#7030a0"}, "encoding": {"x": {"datum": 7460, "type": "quantitative"}, "y": {"datum": 10.5, "type": "quantitative"}, "text": {"value": "Ningyou7"}}}
        ]},
        {"width": 373, "height": 49, "view": {"fill": "#f9f9f9"}, "layer": [
          {"data": {"values": [{}]}, "mark": {"type": "rule", "color": "#ececec", "strokeWidth": 1}, "encoding": {"y": {"datum": 0, "type": "quantitative", "scale": {"domain": [-5, 44], "nice": false, "zero": false}, "axis": null}}},
          {"data": {"values": [{}]}, "mark": {"type": "rule", "color": "#8e8e8e", "strokeWidth": 1.3}, "encoding": {"y": {"datum": 46.2, "type": "quantitative"}}},
          {"data": {"values": [{}]}, "mark": {"type": "rule", "color": "#8e8e8e", "strokeWidth": 1.3}, "encoding": {"y": {"datum": 41.8, "type": "quantitative"}}},
          {"data": {"values": [{}]}, "mark": {"type": "rule", "color": "#1a1a1a", "strokeWidth": 2}, "encoding": {"x": {"datum": 0, "type": "quantitative", "scale": {"domain": [0, 7460], "nice": false, "zero": false}, "axis": null}}},
          {"data": {"values": [{}]}, "mark": {"type": "rule", "color": "#1a1a1a", "strokeWidth": 2}, "encoding": {"x": {"datum": 7460, "type": "quantitative"}}},
          {"data": {"values": [{}]}, "mark": {"type": "text", "align": "left", "baseline": "middle", "dx": 22, "fontSize": 26, "color": "#7030a0"}, "encoding": {"x": {"datum": 7460, "type": "quantitative"}, "y": {"datum": 18, "type": "quantitative"}, "text": {"value": "ZS11"}}}
        ]},
        {"width": 373, "height": 53, "view": {"fill": "#f9f9f9"}, "layer": [
          {"data": {"values": [{}]}, "mark": {"type": "rule", "color": "#ececec", "strokeWidth": 1}, "encoding": {"y": {"datum": 0, "type": "quantitative", "scale": {"domain": [-8, 45], "nice": false, "zero": false}, "axis": null}}},
          {"data": {"values": [{}]}, "mark": {"type": "rule", "color": "#8e8e8e", "strokeWidth": 1.3}, "encoding": {"y": {"datum": 47.2, "type": "quantitative"}}},
          {"data": {"values": [{}]}, "mark": {"type": "rule", "color": "#8e8e8e", "strokeWidth": 1.3}, "encoding": {"y": {"datum": 42.8, "type": "quantitative"}}},
          {"data": {"values": [{}]}, "mark": {"type": "rule", "color": "#8e8e8e", "strokeWidth": 1.3}, "encoding": {"y": {"datum": -5, "type": "quantitative"}}},
          {"data": {"values": [{}]}, "mark": {"type": "rule", "color": "#1a1a1a", "strokeWidth": 2}, "encoding": {"x": {"datum": 0, "type": "quantitative", "scale": {"domain": [0, 7460], "nice": false, "zero": false}, "axis": null}}},
          {"data": {"values": [{}]}, "mark": {"type": "rule", "color": "#1a1a1a", "strokeWidth": 2}, "encoding": {"x": {"datum": 7460, "type": "quantitative"}}},
          {"data": {"values": [{}]}, "mark": {"type": "text", "align": "left", "baseline": "middle", "dx": 22, "fontSize": 26, "color": "#7030a0"}, "encoding": {"x": {"datum": 7460, "type": "quantitative"}, "y": {"datum": 27, "type": "quantitative"}, "text": {"value": "SWUChinese5"}}}
        ]}
      ]
    }
  ]
}
